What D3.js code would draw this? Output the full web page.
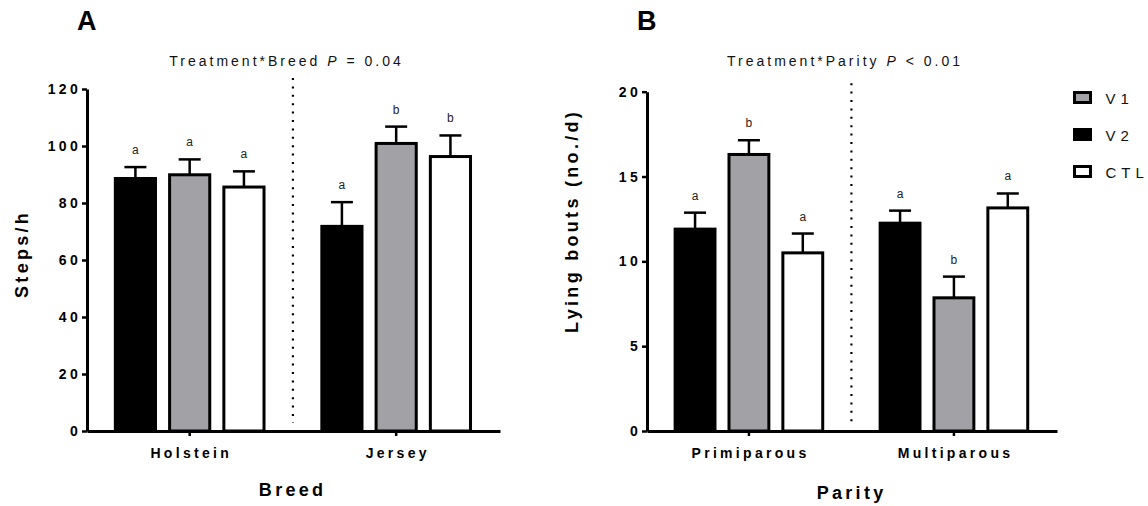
<!DOCTYPE html>
<html>
<head>
<meta charset="utf-8">
<script src="https://cdn.jsdelivr.net/npm/d3@7/dist/d3.min.js"></script>
<style>
    body { margin: 0; background: #fff; }
    text { font-family: "Liberation Sans", Arial, sans-serif; }
</style>
</head>
<body>
<div id="chart"></div>
<script>
// bar order inside each group, and legend order
var treatments = ['V2', 'V1', 'CTL'];
var legendOrder = ['V1', 'V2', 'CTL'];

// A: steps/h by breed
var breeds = ['Holstein', 'Jersey'];
var stepsV2 = [88.6, 71.8];
var stepsV1 = [89.9, 100.9];
var stepsCTL = [85.6, 96.3];
var stepsSEV2 = [4.0, 8.5];
var stepsSEV1 = [5.4, 5.9];
var stepsSECTL = [5.5, 7.4];
var stepsLettersV2 = ['a', 'a'];
var stepsLettersV1 = ['a', 'b'];
var stepsLettersCTL = ['a', 'b'];
var stepsTicks = [0, 20, 40, 60, 80, 100, 120];

// B: lying bouts by parity
var parities = ['Primiparous', 'Multiparous'];
var boutsV2 = [11.9, 12.25];
var boutsV1 = [16.3, 7.85];
var boutsCTL = [10.5, 13.15];
var boutsSEV2 = [0.97, 0.74];
var boutsSEV1 = [0.84, 1.25];
var boutsSECTL = [1.14, 0.85];
var boutsLettersV2 = ['a', 'a'];
var boutsLettersV1 = ['b', 'b'];
var boutsLettersCTL = ['a', 'a'];
var boutsTicks = [0, 5, 10, 15, 20];

var colors = {V1: '#a1a1a6', V2: '#000', CTL: '#fff'};
var base = 431;

var svg = d3.select('#chart')
            .append('svg')
            .attr('width', 1148)
            .attr('height', 506);

function rows(groups, means, ses, letters) {
    var out = [];
    groups.forEach(function(g, gi) {
        treatments.forEach(function(t, ti) {
            out.push({group: g, treat: t, mean: means[ti][gi], se: ses[ti][gi], letter: letters[ti][gi]});
        });
    });
    return out;
}

function drawPanel(cfg) {
    var g = svg.append('g');

    var x = d3.scaleBand()
              .domain(cfg.groups)
              .range([cfg.left, cfg.right])
              .paddingInner(0.28)
              .paddingOuter(0.14)
              .align(0.49);
    var xs = d3.scaleBand()
               .domain(treatments)
               .range([0, x.bandwidth()])
               .paddingInner(0.26);
    var y = d3.scaleLinear()
              .domain([0, cfg.yMax])
              .range([base, cfg.top]);

    // dotted separator between groups
    var sep = (x(cfg.groups[0]) + x.bandwidth() / 2 + x(cfg.groups[1]) + x.bandwidth() / 2) / 2;
    g.append('line')
     .attr('x1', sep).attr('x2', sep)
     .attr('y1', cfg.top - cfg.sepAbove).attr('y2', base - 8)
     .style('stroke', '#000')
     .style('stroke-width', 2.2)
     .style('stroke-dasharray', '2,6.4');

    var data = rows(cfg.groups, cfg.means, cfg.ses, cfg.letters);
    var cx = function(d) { return x(d.group) + xs(d.treat) + xs.bandwidth() / 2; };

    // error bars (upper only)
    g.selectAll('.err')
     .data(data).enter()
     .append('line')
     .attr('x1', cx).attr('x2', cx)
     .attr('y1', function(d) { return y(d.mean); })
     .attr('y2', function(d) { return y(d.mean + d.se); })
     .style('stroke', '#000').style('stroke-width', 2.5);
    g.selectAll('.cap')
     .data(data).enter()
     .append('line')
     .attr('x1', function(d) { return cx(d) - 11; })
     .attr('x2', function(d) { return cx(d) + 11; })
     .attr('y1', function(d) { return y(d.mean + d.se); })
     .attr('y2', function(d) { return y(d.mean + d.se); })
     .style('stroke', '#000').style('stroke-width', 2.5);

    g.selectAll('.bar')
     .data(data).enter()
     .append('rect')
     .attr('x', function(d) { return x(d.group) + xs(d.treat); })
     .attr('width', xs.bandwidth())
     .attr('y', function(d) { return y(d.mean); })
     .attr('height', function(d) { return base - y(d.mean); })
     .style('fill', function(d) { return colors[d.treat]; })
     .style('stroke', '#000')
     .style('stroke-width', 3);

    g.selectAll('.sig')
     .data(data).enter()
     .append('text')
     .attr('x', cx)
     .attr('y', function(d) { return y(d.mean + d.se) - 13; })
     .attr('text-anchor', 'middle')
     .style('font-size', '12px')
     .style('fill', '#222')
     .text(function(d) { return d.letter; });

    // axes
    var ya = g.append('g')
              .attr('transform', 'translate(' + cfg.left + ',0)')
              .call(d3.axisLeft(y).tickValues(cfg.ticks).tickFormat(d3.format('d'))
                      .tickSize(5).tickSizeOuter(0).tickPadding(1));
    var xa = g.append('g')
              .attr('transform', 'translate(0,' + base + ')')
              .call(d3.axisBottom(x).tickSize(5).tickSizeOuter(0).tickPadding(12));
    [ya, xa].forEach(function(a) {
        a.select('.domain').style('stroke-width', 3);
        a.selectAll('.tick line').style('stroke-width', 2.5);
        a.selectAll('.tick text')
         .style('font-family', '"Liberation Sans", Arial, sans-serif')
         .style('font-size', '14px')
         .style('font-weight', 'bold')
         .style('letter-spacing', '3.3px')
         .style('fill', '#000');
    });
    xa.selectAll('.tick text').attr('dx', 1.6);

    // titles
    var t = g.append('text')
             .attr('x', (cfg.left + cfg.right) / 2 - 7)
             .attr('y', 66)
             .attr('text-anchor', 'middle')
             .style('font-size', '14px')
             .style('letter-spacing', '3px')
             .style('fill', '#111');
    t.append('tspan').text(cfg.title[0]);
    t.append('tspan').style('font-style', 'italic').text('P');
    t.append('tspan').text(cfg.title[1]);

    g.append('text')
     .attr('x', cfg.left - 10)
     .attr('y', 30)
     .style('font-size', '27px')
     .style('font-weight', 'bold')
     .text(cfg.label);

    g.append('text')
     .attr('x', cfg.xTitleX + 1.6)
     .attr('y', cfg.xTitleY)
     .attr('text-anchor', 'middle')
     .style('font-size', '18px')
     .style('font-weight', 'bold')
     .style('letter-spacing', '3.3px')
     .text(cfg.xTitle);

    g.append('text')
     .attr('transform', 'translate(' + cfg.yTitleX + ',' + cfg.yTitleY + ') rotate(-90)')
     .attr('dx', 1.6)
     .attr('text-anchor', 'middle')
     .style('font-size', '18px')
     .style('font-weight', 'bold')
     .style('letter-spacing', '3.3px')
     .text(cfg.yTitle);
}

drawPanel({
    label: 'A',
    groups: breeds,
    means: [stepsV2, stepsV1, stepsCTL],
    ses: [stepsSEV2, stepsSEV1, stepsSECTL],
    letters: [stepsLettersV2, stepsLettersV1, stepsLettersCTL],
    ticks: stepsTicks,
    yMax: 120,
    left: 87, right: 500, top: 89, sepAbove: 11,
    title: ['Treatment*Breed ', ' = 0.04'],
    xTitle: 'Breed', xTitleX: 291, xTitleY: 496,
    yTitle: 'Steps/h', yTitleX: 28, yTitleY: 255.5
});

drawPanel({
    label: 'B',
    groups: parities,
    means: [boutsV2, boutsV1, boutsCTL],
    ses: [boutsSEV2, boutsSEV1, boutsSECTL],
    letters: [boutsLettersV2, boutsLettersV1, boutsLettersCTL],
    ticks: boutsTicks,
    yMax: 20,
    left: 647, right: 1057, top: 91.7, sepAbove: 8.5,
    title: ['Treatment*Parity ', ' < 0.01'],
    xTitle: 'Parity', xTitleX: 850, xTitleY: 499,
    yTitle: 'Lying bouts (no./d)', yTitleX: 578, yTitleY: 222.5
});

// legend
var legend = svg.selectAll('.legend')
                .data(legendOrder).enter()
                .append('g')
                .attr('transform', function(d, i) { return 'translate(1074.5,' + (92.5 + i * 37) + ')'; });
legend.append('rect')
      .attr('width', 16).attr('height', 10)
      .style('fill', function(d) { return colors[d]; })
      .style('stroke', '#000')
      .style('stroke-width', 3);
legend.append('text')
      .attr('x', 31).attr('y', 11.5)
      .style('font-size', '15px')
      .style('letter-spacing', '5px')
      .style('fill', '#111')
      .text(function(d) { return d; });
</script>
</body>
</html>
